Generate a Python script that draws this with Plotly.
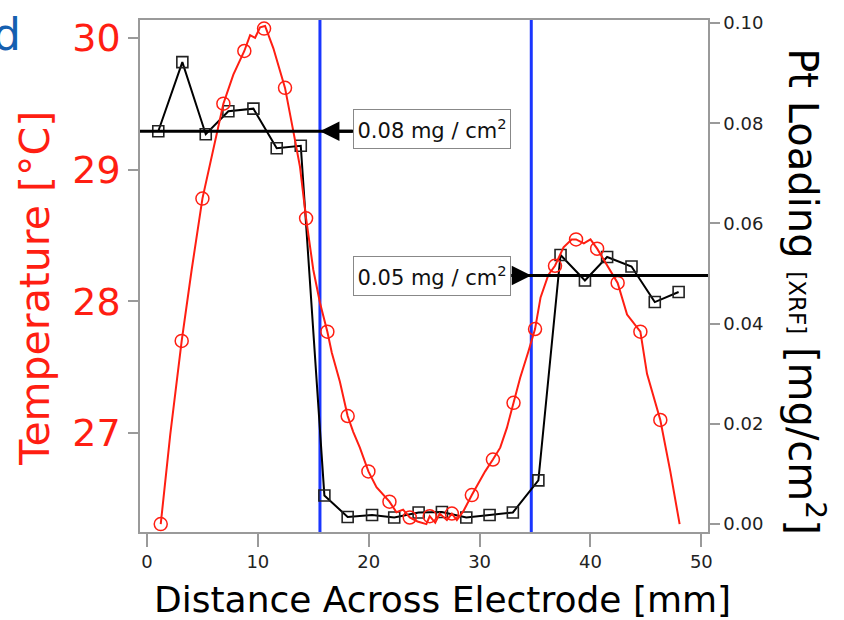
import plotly.graph_objects as go

# ---------------- data ----------------
distance_loading = [1.02, 3.19, 5.3, 7.34, 9.6, 11.7, 13.87, 16.0, 18.1, 20.3, 22.3, 24.5,
                    26.6, 28.8, 30.9, 33.0, 35.3, 37.3, 39.5, 41.5, 43.7, 45.8, 47.95]
pt_loading = [0.0784, 0.0922, 0.0778, 0.0824, 0.0829, 0.0750, 0.0755, 0.0057, 0.0014, 0.0018,
              0.0013, 0.0023, 0.0024, 0.0013, 0.0018, 0.0023, 0.0087, 0.0537, 0.0486, 0.0533,
              0.0514, 0.0443, 0.0463]

distance_temp_markers = [1.24, 3.13, 5.0, 6.89, 8.78, 10.56, 12.45, 14.35, 16.27, 18.1, 19.97,
                         21.87, 23.7, 25.5, 27.5, 29.3, 31.2, 33.06, 35.0, 36.8, 38.7, 40.6,
                         42.45, 44.5, 46.3]
temp_markers = [26.31, 27.70, 28.78, 29.50, 29.90, 30.07, 29.62, 28.63, 27.77, 27.13, 26.71,
                26.48, 26.36, 26.37, 26.39, 26.53, 26.80, 27.23, 27.79, 28.27, 28.47, 28.40,
                28.14, 27.77, 27.10]

distance_temp_line = [1.24, 2.1, 3.13, 4.03, 5.0, 5.84, 6.89, 7.79, 8.78, 9.3, 9.75, 10.2,
                      10.65, 11.4, 12.45, 13.2, 13.8, 14.35, 15.0, 15.6, 16.27, 16.67, 17.4,
                      18.1, 18.6, 19.2, 19.97, 20.7, 21.3, 21.87, 22.5, 23.1, 23.7, 24.4,
                      25.2, 25.5, 26.0, 26.4, 27.05, 27.5, 27.95, 28.55, 29.3, 30.05, 30.5,
                      31.2, 31.86, 32.46, 33.06, 33.66, 34.4, 35.0, 35.5, 36.2, 36.8, 37.57,
                      38.3, 38.7, 39.4, 40.0, 40.6, 41.5, 42.45, 43.3, 44.5, 45.1, 45.7,
                      46.3, 47.2, 48.04]
temp_line = [26.31, 26.99, 27.70, 28.24, 28.78, 29.11, 29.50, 29.72, 29.90, 30.02, 30.00, 30.08,
             30.09, 29.92, 29.62, 29.29, 29.02, 28.63, 28.24, 27.99, 27.77, 27.61, 27.39,
             27.13, 27.01, 26.89, 26.71, 26.59, 26.53, 26.48, 26.40, 26.42, 26.36, 26.33,
             26.31, 26.37, 26.32, 26.39, 26.34, 26.39, 26.34, 26.41, 26.53, 26.64, 26.71,
             26.80, 26.89, 27.04, 27.23, 27.42, 27.62, 27.79, 28.03, 28.20, 28.27, 28.41,
             28.47, 28.47, 28.44, 28.47, 28.40, 28.27, 28.14, 27.90, 27.77, 27.45, 27.28,
             27.10, 26.71, 26.31]

boundaries = [15.6, 34.66]
ref_loadings = [0.0784, 0.0496]
ref_labels = ["0.08 mg / cm<sup>2</sup>", "0.05 mg / cm<sup>2</sup>"]

x_ticks = [0, 10, 20, 30, 40, 50]
temp_ticks = [27, 28, 29, 30]
loading_ticks = [0.00, 0.02, 0.04, 0.06, 0.08, 0.10]

# ---------------- styling ----------------
FONT = "DejaVu Sans"
RED = "#ff1e12"
BLUE = "#1a36ff"
FRAME = "#9a9a9a"

XR = [-0.63, 50.6]
TR = [26.25, 30.135]
LR = [-0.0016, 0.1006]

fig = go.Figure()

fig.add_trace(go.Scatter(
    x=distance_loading, y=pt_loading, yaxis="y", mode="lines+markers",
    line=dict(color="black", width=2),
    marker=dict(symbol="square-open", size=11, color="#222222", line=dict(width=1.6)),
    showlegend=False, hoverinfo="skip"))

fig.add_trace(go.Scatter(
    x=distance_temp_line, y=temp_line, yaxis="y2", mode="lines",
    line=dict(color=RED, width=2),
    showlegend=False, hoverinfo="skip"))

fig.add_trace(go.Scatter(
    x=distance_temp_markers, y=temp_markers, yaxis="y2", mode="markers",
    marker=dict(symbol="circle-open", size=13, color=RED, line=dict(width=1.5)),
    showlegend=False, hoverinfo="skip"))

shapes = []
for b in boundaries:
    shapes.append(dict(type="line", xref="x", yref="paper", x0=b, x1=b, y0=0, y1=1,
                       line=dict(color=BLUE, width=3), layer="below"))
# reference lines
box_left = 18.68
box_right = 32.85
shapes.append(dict(type="line", xref="x", yref="y", x0=XR[0], x1=box_left,
                   y0=ref_loadings[0], y1=ref_loadings[0], line=dict(color="black", width=3)))
shapes.append(dict(type="line", xref="x", yref="y", x0=box_right, x1=XR[1],
                   y0=ref_loadings[1], y1=ref_loadings[1], line=dict(color="black", width=3)))

annotations = []
# arrowheads at the boundaries
annotations.append(dict(x=boundaries[0], y=ref_loadings[0], xref="x", yref="y", text="",
                        showarrow=True, ax=34, ay=0, arrowhead=2, arrowsize=1.3,
                        arrowwidth=3, arrowcolor="black"))
annotations.append(dict(x=boundaries[1], y=ref_loadings[1], xref="x", yref="y", text="",
                        showarrow=True, ax=-20, ay=0, arrowhead=2, arrowsize=1.3,
                        arrowwidth=3, arrowcolor="black"))
# label boxes
for lab, yv in zip(ref_labels, [0.0789, 0.0496]):
    annotations.append(dict(x=25.7, y=yv, xref="x", yref="y", text=lab, showarrow=False,
                            xanchor="center", yanchor="middle",
                            font=dict(family=FONT, size=21, color="#111111"),
                            bordercolor="#888888", borderwidth=1, bgcolor="white",
                            borderpad=1, width=154, height=36))
# axis titles
annotations.append(dict(x=0.532, y=-0.131, xref="paper", yref="paper",
                        xanchor="center", yanchor="middle",
                        text="Distance Across Electrode [mm]", showarrow=False,
                        font=dict(family=FONT, size=36, color="black")))
annotations.append(dict(x=-0.185, y=0.477, xref="paper", yref="paper",
                        xanchor="center", yanchor="middle",
                        text="Temperature [°C]", showarrow=False, textangle=-90,
                        font=dict(family=FONT, size=41, color=RED)))
annotations.append(dict(x=1.171, y=0.470, xref="paper", yref="paper",
                        xanchor="center", yanchor="middle",
                        text="Pt Loading <span style='font-size:23px'>[XRF]</span> [mg/cm<sup>2</sup>]",
                        showarrow=False, textangle=90,
                        font=dict(family=FONT, size=40, color="black")))
# panel letter
annotations.append(dict(x=-0.262, y=0.972, xref="paper", yref="paper", text="d",
                        xanchor="left", yanchor="middle", showarrow=False,
                        font=dict(family=FONT, size=44, color="#1560b0")))

fig.update_layout(
    width=844, height=620,
    margin=dict(l=140, r=136, t=14, b=88),
    paper_bgcolor="white", plot_bgcolor="white",
    showlegend=False,
    shapes=shapes, annotations=annotations,
    xaxis=dict(range=XR, tickvals=x_ticks, ticks="outside", ticklen=13, tickwidth=1.5,
               tickcolor=FRAME, showline=True, linecolor=FRAME, linewidth=1.5, mirror=True,
               showgrid=False, zeroline=False,
               tickfont=dict(family=FONT, size=18, color="#222222")),
    yaxis=dict(range=LR, side="right", tickvals=loading_ticks, tickformat=".2f",
               ticks="outside", ticklen=10, tickwidth=1.5, tickcolor=FRAME,
               showline=True, linecolor=FRAME, linewidth=1.5,
               showgrid=False, zeroline=False,
               tickfont=dict(family=FONT, size=18, color="#222222")),
    yaxis2=dict(range=TR, side="left", overlaying="y", tickvals=temp_ticks,
                ticks="outside", ticklen=10, tickwidth=1.5, tickcolor=FRAME,
                showline=True, linecolor=FRAME, linewidth=1.5,
                showgrid=False, zeroline=False,
                tickfont=dict(family=FONT, size=38, color=RED)),
)

fig.write_html("out.html")
